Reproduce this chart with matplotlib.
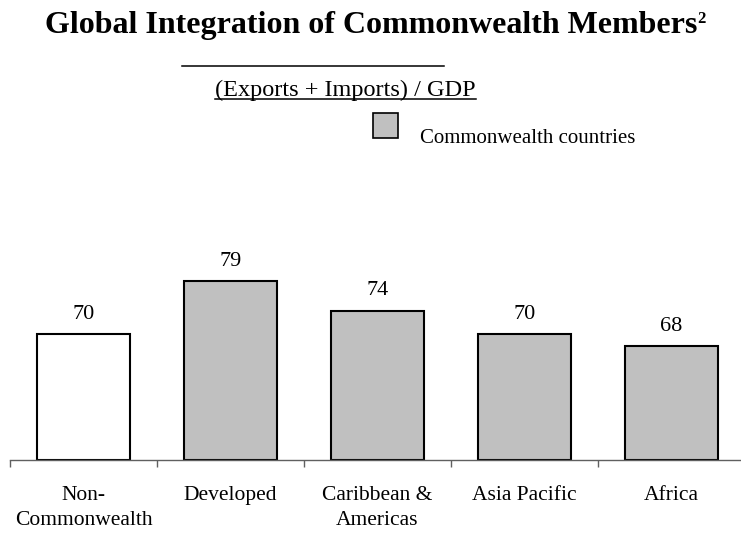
# Bar chart: trade openness of Commonwealth member groups

import matplotlib
matplotlib.use('Agg')
import matplotlib.pyplot as plt
from matplotlib.patches import Rectangle
from matplotlib.lines import Line2D

plt.rcParams['font.family'] = ['Liberation Serif', 'DejaVu Serif']

categories = ['Non-\nCommonwealth', 'Developed', 'Caribbean &\nAmericas', 'Asia Pacific', 'Africa']
values = [70, 79, 74, 70, 68]
bar_colors = ['white', '#c0c0c0', '#c0c0c0', '#c0c0c0', '#c0c0c0']

W, H = 741, 533


def fx(x):
    return x / W


def fy(y):
    return 1 - y / H


fig = plt.figure(figsize=(W / 100, H / 100), dpi=100)

# axes: baseline at y=459.5 px, left edge at x=10 px, 147 px per category
ax = fig.add_axes([fx(10), fy(459.5), 1 - fx(10), (459.5 - 160) / H])
ax.set_xlim(-0.5, -0.5 + 731 / 147)
ax.set_ylim(48.8, 48.8 + (459.5 - 160) / 5.91)

pos = list(range(len(values)))
ax.bar(pos, [v - 48.8 for v in values], bottom=48.8, width=0.626,
       color=bar_colors, edgecolor='black', linewidth=1.5, zorder=2)
for p, v in zip(pos, values):
    ax.annotate(str(v), (p, v), xytext=(0, 7.5), textcoords='offset points',
                ha='center', va='bottom', fontsize=16)

for s in ['top', 'right', 'left']:
    ax.spines[s].set_visible(False)
ax.spines['bottom'].set_color('#606060')
ax.spines['bottom'].set_linewidth(1.0)
ax.set_yticks([])
ax.set_xticks([p - 0.5 for p in pos], minor=True)
ax.tick_params(axis='x', which='minor', length=5, color='#606060', width=1.0)
ax.set_xticks(pos)
ax.set_xticklabels(categories, fontsize=15.5, linespacing=1.47)
ax.tick_params(axis='x', which='major', length=0, pad=19)

# title with footnote marker
t = fig.text(fx(45), fy(33), 'Global Integration of Commonwealth Members',
             fontsize=23, fontweight='bold', va='baseline', ha='left')
fig.canvas.draw()
bb = t.get_window_extent()
fig.text(bb.x1 / W, fy(23), '2', fontsize=12, fontweight='bold',
         va='baseline', ha='left')

# rule above subtitle
fig.add_artist(Line2D([fx(182), fx(444)], [fy(66), fy(66)], color='black', lw=1.1))

# underlined subtitle
st = fig.text(fx(215), fy(96), '(Exports + Imports) / GDP', fontsize=17.5,
              va='baseline', ha='left')
fig.canvas.draw()
sb = st.get_window_extent()
fig.add_artist(Line2D([sb.x0 / W, sb.x1 / W], [fy(99), fy(99)], color='black', lw=1.1))

# legend entry
fig.add_artist(Rectangle((fx(373), fy(138)), 25 / W, 25 / H, transform=fig.transFigure,
                         facecolor='#c0c0c0', edgecolor='black', lw=1.2))
fig.text(fx(420), fy(143), 'Commonwealth countries', fontsize=15, va='baseline', ha='left')

fig.savefig('out.png', dpi=100)
